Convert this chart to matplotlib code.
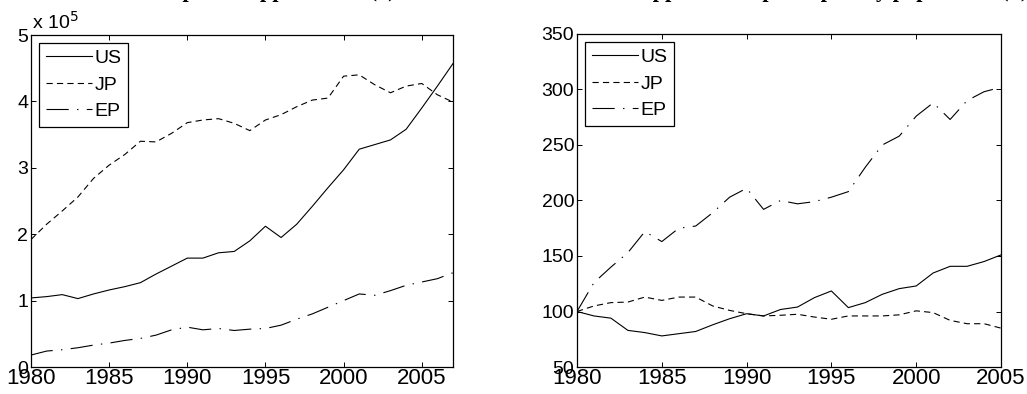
#!/usr/bin/env python3
"""Patent applications: absolute counts (left) and index 1980 = 100 (right)."""
import matplotlib
matplotlib.use("Agg")
import matplotlib.pyplot as plt
import numpy as np

plt.rcParams["font.family"] = ["Liberation Sans", "DejaVu Sans"]
plt.rcParams["lines.scale_dashes"] = False

# ── Data ─────────────────────────────────────────────────────────────────────
years_a = np.arange(1980, 2008)
us_a = [104000, 106000, 109000, 103000, 110000, 116000, 121000, 127000, 140000, 152000,
        164000, 164000, 172000, 174000, 190000, 212000, 195000, 215000, 242000, 270000,
        297000, 328000, 335000, 342000, 358000, 390000, 423000, 457000]
jp_a = [192000, 215000, 235000, 256000, 284000, 304000, 320000, 340000, 339000, 352000,
        368000, 372000, 374000, 367000, 356000, 372000, 380000, 392000, 402000, 405000,
        438000, 440000, 425000, 413000, 423000, 427000, 410000, 399000]
ep_a = [18000, 24000, 26000, 29000, 33000, 36000, 40000, 43000, 48000, 56000,
        60000, 56000, 58000, 55000, 57000, 58000, 63000, 72000, 80000, 90000,
        100000, 110000, 108000, 115000, 123000, 128000, 133000, 142000]

years_b = np.arange(1980, 2006)
us_b = [100, 96, 94, 83, 81, 78, 80, 82, 88, 93.5, 98, 96, 101.8, 104, 112.5, 118.5,
        103.5, 108, 115.5, 120.6, 123, 134.7, 140.7, 140.7, 145, 151]
jp_b = [100, 105, 108, 108.5, 113, 110, 113, 113, 105, 101, 98, 96, 96.6, 97.5, 95, 93,
        96, 96, 96, 97, 100.6, 99, 92, 89, 89, 85]
ep_b = [100, 126, 140, 153, 172, 163, 175, 177, 189, 203, 211, 192, 200, 197, 199, 203,
        208, 230, 250, 258, 276, 288, 273, 290, 298, 302]

labels = ["US", "JP", "EP"]
styles = [dict(linestyle="-"),
          dict(linestyle=(0, (4.5, 3.0))),
          dict(linestyle=(0, (16, 6, 1, 6)))]

FS_Y = 14
FS_X = 16


def style_axes(ax):
    ax.tick_params(direction="in", top=True, right=True, length=3.5, width=0.7, pad=2)
    ax.tick_params(axis="y", labelsize=FS_Y)
    ax.tick_params(axis="x", labelsize=FS_X, pad=1)
    for s in ax.spines.values():
        s.set_linewidth(0.9)
        s.set_color("black")


fig = plt.figure(figsize=(10.27, 3.94), dpi=100)

# cut-off bold title strip at the very top (only descenders show)
fig.text(0.245, 1 - 2 / 394, "Triadic patent applications (a)", ha="center",
         va="bottom", fontsize=16, fontweight="bold", family="Liberation Serif")
fig.text(0.78, 1 - 2 / 394, "Patent applications per capita by population (b)",
         ha="center", va="bottom", fontsize=16, fontweight="bold",
         family="Liberation Serif")

# ── Left panel ───────────────────────────────────────────────────────────────
ax1 = fig.add_axes([31 / 1027, 27 / 394, 422 / 1027, 332 / 394])
for series, lab, st in zip([us_a, jp_a, ep_a], labels, styles):
    ax1.plot(years_a, np.array(series) / 1e5, color="black", lw=0.8, label=lab, **st)
ax1.set_xlim(1980, 2007)
ax1.set_ylim(0, 5)
ax1.set_xticks([1980, 1985, 1990, 1995, 2000, 2005])
ax1.set_yticks([0, 1, 2, 3, 4, 5])
style_axes(ax1)
ax1.text(0.003, 1.008, r"x 10$^5$", transform=ax1.transAxes, fontsize=14,
         ha="left", va="bottom")

# ── Right panel ──────────────────────────────────────────────────────────────
ax2 = fig.add_axes([577 / 1027, 27 / 394, 424 / 1027, 333 / 394])
for series, lab, st in zip([us_b, jp_b, ep_b], labels, styles):
    ax2.plot(years_b, series, color="black", lw=0.8, label=lab, **st)
ax2.set_xlim(1980, 2005)
ax2.set_ylim(50, 350)
ax2.set_xticks([1980, 1985, 1990, 1995, 2000, 2005])
ax2.set_yticks([50, 100, 150, 200, 250, 300, 350])
style_axes(ax2)

for ax in (ax1, ax2):
    leg = ax.legend(loc="upper left", fontsize=14, frameon=True, fancybox=False,
                    framealpha=1, edgecolor="black", handlelength=2.4,
                    handletextpad=0.1, labelspacing=0.45, borderpad=0.35,
                    borderaxespad=0.4)
    leg.get_frame().set_linewidth(0.9)

fig.savefig("out.png", dpi=100, facecolor="white")
